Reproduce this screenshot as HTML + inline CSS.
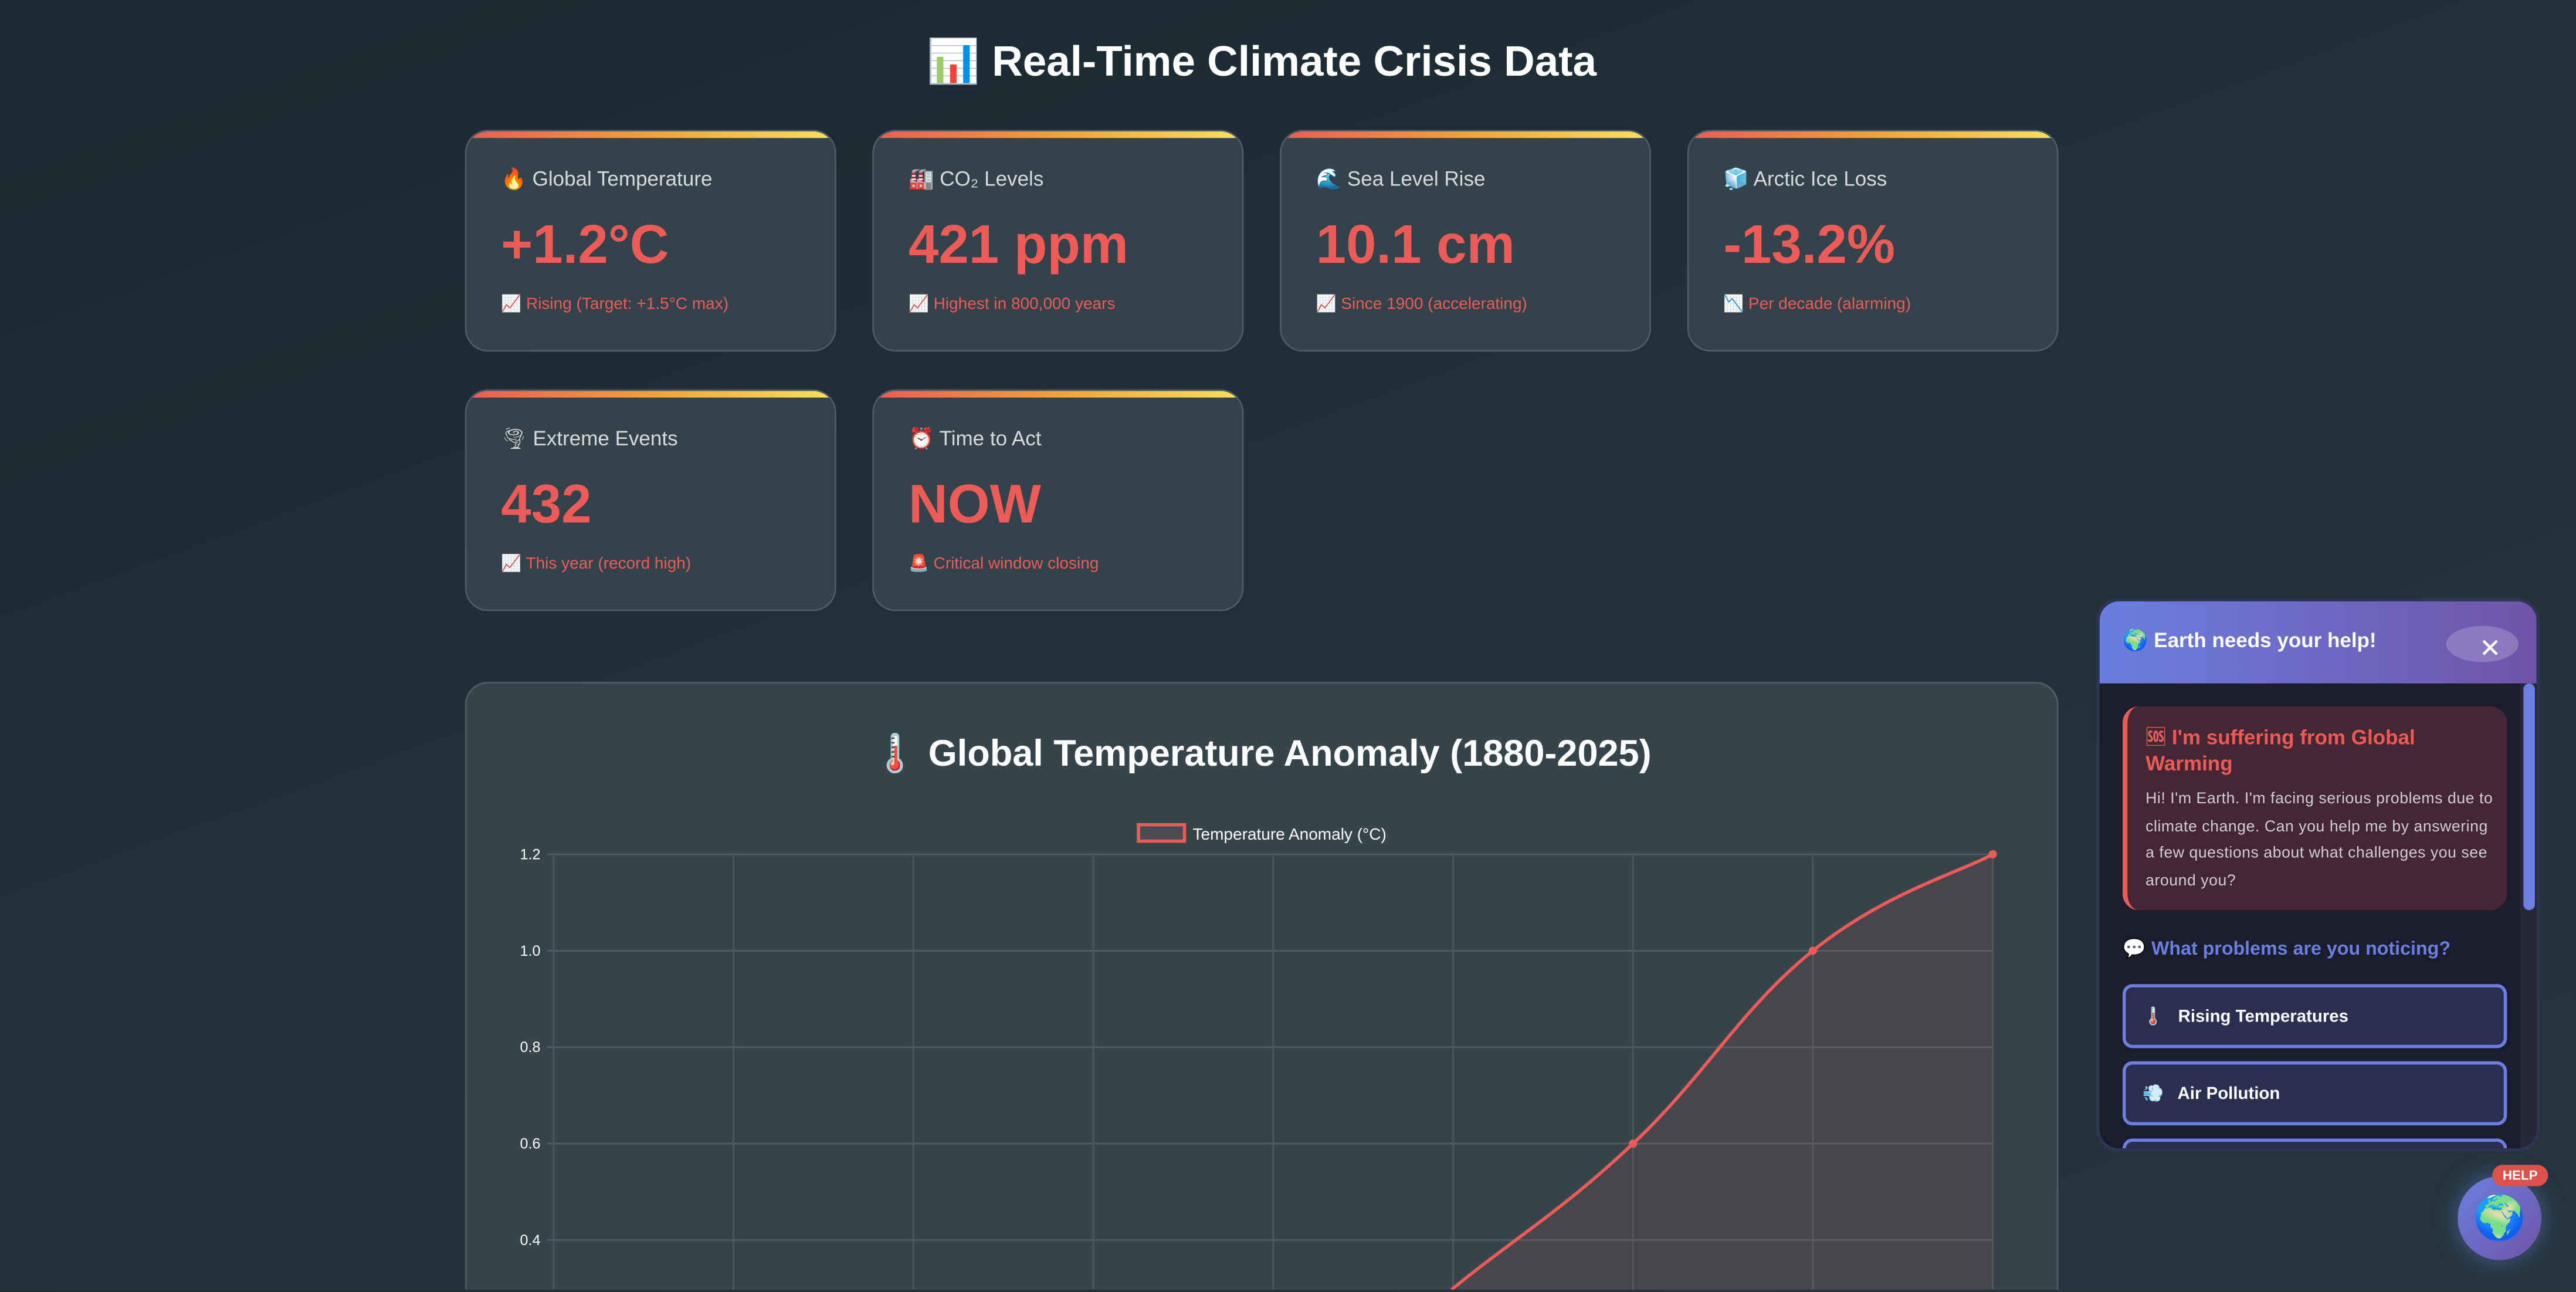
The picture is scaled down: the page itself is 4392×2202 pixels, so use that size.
<!DOCTYPE html>
<html><head><meta charset="utf-8">
<style>
*{box-sizing:border-box;margin:0;padding:0}
html,body{width:4392px;height:2202px;overflow:hidden;background:#1c2a32}
#root{position:absolute;left:0;top:0;width:1568px;height:786px;transform:scale(2.801,2.8);transform-origin:0 0;
background:linear-gradient(160deg,#1b2831 0%,#22323b 60%,#26363f 100%);font-family:"Liberation Sans","Noto Sans CJK SC",sans-serif;color:#fff;overflow:hidden}
.title{position:absolute;left:0;width:1536px;top:22px;text-align:center;font-size:26px;font-weight:bold;color:#fff}
.card{position:absolute;width:226px;height:135px;border-radius:14px;background:#34434b;border:1px solid #4d5c64;overflow:hidden}
.card::before{content:"";position:absolute;left:0;right:0;top:0;height:4px;background:linear-gradient(90deg,#ec5b55,#f0a23a,#f8e05a)}
.lbl{position:absolute;left:21px;top:22px;font-size:12.5px;color:#d5dadc}
.val{position:absolute;left:21px;top:50px;font-size:33px;font-weight:bold;color:#ec5b55}
.sub{position:absolute;left:21px;top:100px;font-size:10px;color:#ec5b55}
.chartcard{position:absolute;left:283px;top:415px;width:970px;height:370px;border-radius:14px 14px 0 0;background:#36454c;border:1px solid #4d5c64;border-bottom:none}
.ctitle{position:absolute;left:0;right:0;top:30px;text-align:center;font-size:22.5px;font-weight:bold}
.popup{position:absolute;left:1276px;top:364px;width:270px;height:337px;border-radius:14px;background:#1b1c2d;border:2px solid #2d3550;overflow:hidden}
.ph{position:absolute;left:0;top:0;width:100%;height:50px;background:linear-gradient(90deg,#6a7fe0,#7054a8)}
</style></head><body>
<div id="root">
<div class="title">📊 Real-Time Climate Crisis Data</div>

<div class="card" style="left:283px;top:79px"><div class="lbl">🔥 Global Temperature</div><div class="val">+1.2°C</div><div class="sub">📈 Rising (Target: +1.5°C max)</div></div>
<div class="card" style="left:531px;top:79px"><div class="lbl">🏭 CO₂ Levels</div><div class="val">421 ppm</div><div class="sub">📈 Highest in 800,000 years</div></div>
<div class="card" style="left:779px;top:79px"><div class="lbl">🌊 Sea Level Rise</div><div class="val">10.1 cm</div><div class="sub">📈 Since 1900 (accelerating)</div></div>
<div class="card" style="left:1027px;top:79px"><div class="lbl">🧊 Arctic Ice Loss</div><div class="val">-13.2%</div><div class="sub">📉 Per decade (alarming)</div></div>
<div class="card" style="left:283px;top:237px"><div class="lbl">🌪 Extreme Events</div><div class="val">432</div><div class="sub">📈 This year (record high)</div></div>
<div class="card" style="left:531px;top:237px"><div class="lbl">⏰ Time to Act</div><div class="val">NOW</div><div class="sub">🚨 Critical window closing</div></div>

<div class="chartcard">
<div class="ctitle">🌡️ Global Temperature Anomaly (1880-2025)</div>
</div>
<svg id="chart" style="position:absolute;left:0;top:0;overflow:hidden" width="1568" height="785"></svg>

<div class="popup">
<div class="ph">
<div style="position:absolute;left:14px;top:17px;font-size:12.5px;font-weight:bold">🌍 Earth needs your help!</div>
<div style="position:absolute;left:211px;top:15px;width:44px;height:22px;border-radius:50%;background:rgba(255,255,255,0.2)"></div>
<div style="position:absolute;left:231px;top:22px;font-size:16px;line-height:16px">✕</div>
</div>
<div style="position:absolute;right:0;top:50px;width:10px;height:283px;background:#26283a"></div>
<div style="position:absolute;right:1px;top:50px;width:7px;height:138px;border-radius:4px;background:#6a7fe0"></div>
<div style="position:absolute;left:14px;top:64px;width:234px;height:124px;border-radius:10px;background:#452634;border-left:3px solid #ec5b55">
<div style="position:absolute;left:11px;top:11px;font-size:12.5px;font-weight:bold;color:#ec5b55;line-height:16px">🆘 I'm suffering from Global Warming</div>
<div style="position:absolute;left:11px;top:49px;width:214px;font-size:9.5px;color:#d0cdd3;line-height:16.5px;letter-spacing:0.2px">Hi! I'm Earth. I'm facing serious problems due to climate change. Can you help me by answering a few questions about what challenges you see around you?</div>
</div>
<div style="position:absolute;left:14px;top:204px;font-size:11.5px;font-weight:bold;color:#6a7fe0">💬 What problems are you noticing?</div>
<div style="position:absolute;left:14px;top:233px;width:234px;height:39px;border-radius:6px;background:#2b2e50;border:2px solid #6a7fe0;font-size:10.5px;font-weight:bold;padding:11px 0 0 10px">🌡️&nbsp;&nbsp; Rising Temperatures</div>
<div style="position:absolute;left:14px;top:280px;width:234px;height:39px;border-radius:6px;background:#2b2e50;border:2px solid #6a7fe0;font-size:10.5px;font-weight:bold;padding:11px 0 0 10px">💨&nbsp;&nbsp; Air Pollution</div>
<div style="position:absolute;left:14px;top:327px;width:234px;height:6px;border-radius:6px 6px 0 0;background:#2b2e50;border:2px solid #6a7fe0;border-bottom:none"></div>
</div>

<div style="position:absolute;left:1496px;top:716px;width:51px;height:51px;border-radius:50%;background:linear-gradient(135deg,#6a7fe0,#7054a8);box-shadow:0 0 14px rgba(106,127,224,0.5);text-align:center;font-size:26px;line-height:51px">🌍</div>
<div style="position:absolute;left:1517px;top:709px;width:34px;height:13px;border-radius:7px;background:#e0504c;font-size:8px;font-weight:bold;text-align:center;line-height:13px">HELP</div>
</div>
<script>
const years = [1880,1900,1920,1940,1960,1980,2000,2020,2025];
const anomalies = [-0.2,-0.1,-0.2,0.0,0.0,0.3,0.6,1.0,1.2];
const yTicks = [1.2,1.0,0.8,0.6,0.4,0.2,0.0,-0.2];
const svg = document.getElementById('chart');
const NS='http://www.w3.org/2000/svg';
const L=337,R=1213,Y12=520,PER=293.5,BOT=785;
const xS=i=>L+(R-L)*i/(years.length-1);
const yS=v=>Y12+(1.2-v)*PER;
function mk(t,a,parent){const e=document.createElementNS(NS,t);for(const k in a)e.setAttribute(k,a[k]);(parent||svg).appendChild(e);return e;}
yTicks.forEach(t=>{
 if(yS(t)>BOT)return;
 const g=mk('line',{x1:L-4,x2:R,y1:yS(t),y2:yS(t),stroke:'#4f5e64','stroke-width':1});
 
 
 const tx=mk('text',{x:L-8,y:yS(t)+3,fill:'#fff','font-size':9,'text-anchor':'end','font-family':'Liberation Sans'});
 tx.textContent=t.toFixed(1);
 
 
});
years.forEach((y,i)=>{
 const g=mk('line',{x1:xS(i),x2:xS(i),y1:Y12,y2:BOT,stroke:'#49585e','stroke-width':1});
 
 
});
// spline sampled, keep only visible part
const pts=anomalies.map((v,i)=>[xS(i),yS(v)]);
const tn=0.4, samples=[];
for(let i=0;i<pts.length-1;i++){
 const p0=pts[Math.max(0,i-1)],p1=pts[i],p2=pts[i+1],p3=pts[Math.min(pts.length-1,i+2)];
 const c1=[p1[0]+(p2[0]-p0[0])*tn/2,p1[1]+(p2[1]-p0[1])*tn/2];
 const c2=[p2[0]-(p3[0]-p1[0])*tn/2,p2[1]-(p3[1]-p1[1])*tn/2];
 for(let s=0;s<=40;s++){
  const t=s/40,u=1-t;
  const x=u*u*u*p1[0]+3*u*u*t*c1[0]+3*u*t*t*c2[0]+t*t*t*p2[0];
  const y=u*u*u*p1[1]+3*u*u*t*c1[1]+3*u*t*t*c2[1]+t*t*t*p2[1];
  samples.push([x,y]);
 }
}
const segs=[];let cur=[];
for(let k=0;k<samples.length;k++){
 const p=samples[k];
 if(p[1]<=BOT){
  if(!cur.length&&k>0){const q=samples[k-1];const f=(BOT-q[1])/(p[1]-q[1]);cur.push([q[0]+(p[0]-q[0])*f,BOT]);}
  cur.push(p);
 }else if(cur.length){const q=samples[k-1];const f=(BOT-q[1])/(p[1]-q[1]);cur.push([q[0]+(p[0]-q[0])*f,BOT]);segs.push(cur);cur=[];}
}
if(cur.length)segs.push(cur);
segs.forEach(sg=>{
 const ds='M'+sg.map(p=>p[0].toFixed(2)+','+p[1].toFixed(2)).join(' L');
 const a=sg[0],b=sg[sg.length-1];
 const area=mk('path',{d:ds+' L'+b[0]+','+BOT+' L'+a[0]+','+BOT+' Z',fill:'rgba(236,91,85,0.1)'});
 
 
 const line=mk('path',{d:ds,fill:'none',stroke:'#ec5b55','stroke-width':2});
 
 
});
pts.forEach(p=>{
 const r=Math.min(2.5,BOT-p[1]);
 if(r<=0.5)return;
 const c=mk('circle',{cx:p[0],cy:p[1],r:r,fill:'#ec5b55'});
 
 
});
const lb=mk('rect',{x:693,y:502,width:28,height:10,fill:'#4a4c52',stroke:'#ec5b55','stroke-width':2});


const lt=mk('text',{x:726,y:511,fill:'#fff','font-size':10,'font-family':'Liberation Sans'});
lt.textContent='Temperature Anomaly (°C)';


</script>
</body></html>
